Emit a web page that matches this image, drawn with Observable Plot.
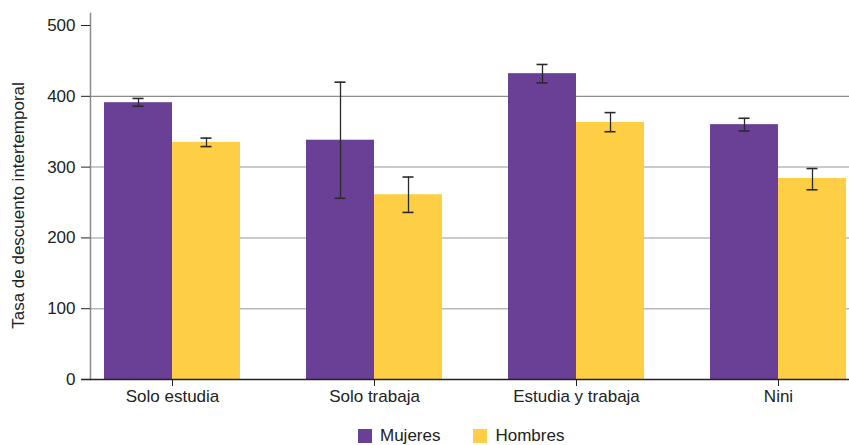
<!DOCTYPE html>
<html><head><meta charset="utf-8">
<script src="https://cdn.jsdelivr.net/npm/d3@7"></script>
<script src="https://cdn.jsdelivr.net/npm/@observablehq/plot@0.6"></script>
<style>
body{margin:0;background:#fff;font-family:"Liberation Sans",sans-serif;}
#legend{display:flex;align-items:center;height:30px;margin-top:6px;padding-left:358px;font-size:17px;color:#222}
#legend .item{display:flex;align-items:center;margin-right:33px}
#legend .sw{width:14px;height:14px;margin-right:8px}
</style></head><body><div id="chart"></div><div id="legend"></div>
<script>
const categories = ["Solo estudia", "Solo trabaja", "Estudia y trabaja", "Nini"];
const series = ["Mujeres", "Hombres"];
const mujeres = [391, 338, 432, 360];
const mujeresLow = [386, 256, 419, 351];
const mujeresHigh = [397, 420, 445, 369];
const hombres = [335, 261, 363, 284];
const hombresLow = [329, 236, 350, 268];
const hombresHigh = [341, 286, 377, 298];
const yTicks = [0, 100, 200, 300, 400, 500];
const yLabel = "Tasa de descuento intertemporal";
const colors = ["#6a3f96", "#fecf44"];

const rows = categories.map((c, i) => ({
  cat: c, m: mujeres[i], mLo: mujeresLow[i], mHi: mujeresHigh[i],
  h: hombres[i], hLo: hombresLow[i], hHi: hombresHigh[i]
}));

const font = '"Liberation Sans",sans-serif';
const fs = 17;
const errStyle = {stroke: "#2a2a2a", strokeWidth: 1.3};
const capStyle = {stroke: "#2a2a2a", strokeWidth: 1.6, insetLeft: 62.5, insetRight: 62.5};

const plot = Plot.plot({
  width: 849, height: 415,
  marginLeft: 90, marginRight: 0, marginTop: 13, marginBottom: 36,
  style: {fontFamily: font, fontSize: fs + "px", color: "#222", background: "#fff"},
  x: {domain: categories, paddingInner: 0.327, paddingOuter: 0.042, align: 0.8, label: null},
  y: {domain: [0, 517], label: null},
  marks: [
    Plot.ruleY(yTicks.filter(d => d > 0 && d < 400), {stroke: "#b8b8b8", strokeWidth: 1.5}),
    Plot.ruleY(yTicks.filter(d => d === 400), {stroke: "#8c8c8c", strokeWidth: 1.2}),
    Plot.barY(rows, {x: "cat", y: "m", fill: colors[0], insetRight: 68}),
    Plot.barY(rows, {x: "cat", y: "h", fill: colors[1], insetLeft: 68}),
    Plot.ruleX(rows, {x: "cat", y1: "mLo", y2: "mHi", dx: -34, ...errStyle}),
    Plot.tickY(rows, {x: "cat", y: "mLo", dx: -34, ...capStyle}),
    Plot.tickY(rows, {x: "cat", y: "mHi", dx: -34, ...capStyle}),
    Plot.ruleX(rows, {x: "cat", y1: "hLo", y2: "hHi", dx: 34, ...errStyle}),
    Plot.tickY(rows, {x: "cat", y: "hLo", dx: 34, ...capStyle}),
    Plot.tickY(rows, {x: "cat", y: "hHi", dx: 34, ...capStyle}),
    Plot.frame({anchor: "left", stroke: "#8a8a8a", strokeWidth: 1.5}),
    Plot.ruleY([0], {insetLeft: -9, stroke: "#222", strokeWidth: 1.3}),
    Plot.axisY({ticks: yTicks, tickSize: 9, tickPadding: 6, label: null, fontSize: fs, fontFamily: font}),
    Plot.axisX({tickSize: 7, tickPadding: 3, label: null, fontSize: fs, fontFamily: font}),
    Plot.text([yLabel], {frameAnchor: "left", rotate: -90, dx: -72, dy: 9, text: d => d,
      fontSize: fs, fontFamily: font, fill: "#222", textAnchor: "middle"})
  ]
});
document.getElementById("chart").appendChild(plot);

const legend = document.getElementById("legend");
series.forEach((s, i) => {
  const item = document.createElement("div");
  item.className = "item";
  const sw = document.createElement("div");
  sw.className = "sw";
  sw.style.background = colors[i];
  const t = document.createElement("span");
  t.textContent = s;
  item.appendChild(sw); item.appendChild(t);
  legend.appendChild(item);
});
</script>
</body></html>
